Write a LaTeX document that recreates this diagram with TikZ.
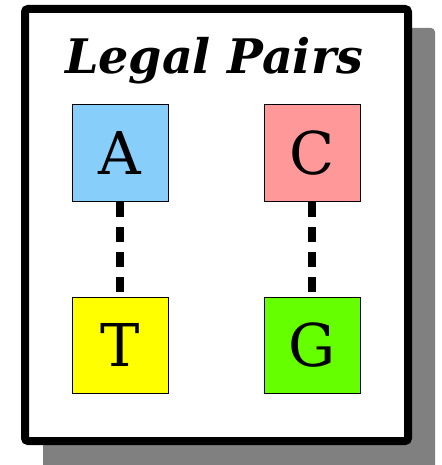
\documentclass[tikz,border=0pt]{standalone}
\usepackage{fontspec}
\setmainfont{DejaVu Serif}
\definecolor{boxA}{HTML}{87CEFA}
\definecolor{boxC}{HTML}{FF9999}
\definecolor{boxT}{HTML}{FFFF00}
\definecolor{boxG}{HTML}{66FF00}
\definecolor{shadowgray}{HTML}{808080}
\begin{document}
\begin{tikzpicture}[x=1pt,y=-1pt,
  basebox/.style={draw=black,line width=1pt,minimum size=96pt,inner sep=0pt,anchor=center,font=\fontsize{59}{60}\selectfont},
  pairlink/.style={line width=8pt,dash pattern=on 15pt off 10pt}]
\useasboundingbox (0,0) rectangle (441,465);
\fill[shadowgray,rounded corners=4pt] (43,28) rectangle (435,470);
\draw[fill=white,line width=8pt,rounded corners=3pt] (25,9) rectangle (408,441);
\node[font=\fontsize{47.6}{49}\selectfont\bfseries\itshape,anchor=base] (title) at (214,74) {Legal Pairs};
\node[basebox,fill=boxA] (A) at (120,153) {A};
\node[basebox,fill=boxC] (C) at (312,153) {C};
\node[basebox,fill=boxT] (T) at (120,345) {T};
\node[basebox,fill=boxG] (G) at (312,345) {G};
\draw[pairlink] (A.south) -- (T.north);
\draw[pairlink] (C.south) -- (G.north);
\end{tikzpicture}
\end{document}
